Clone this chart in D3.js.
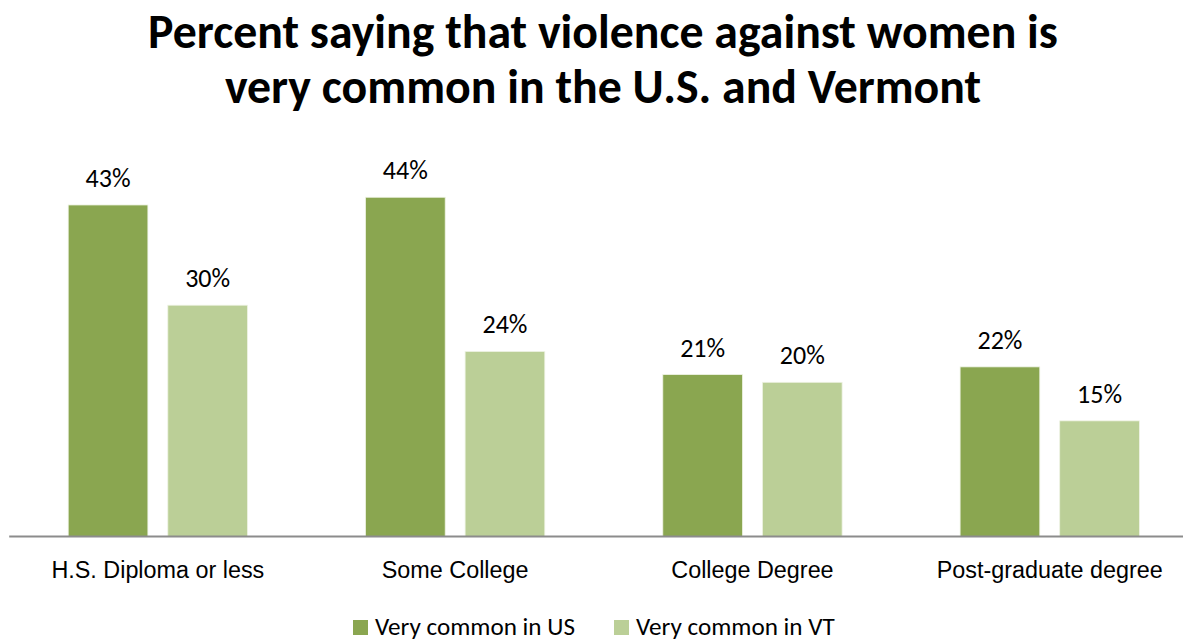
<!DOCTYPE html>
<html>
<head>
<meta charset="utf-8">
<script src="https://cdn.jsdelivr.net/npm/d3@7"></script>
<style>
  html, body { margin: 0; padding: 0; background: #fff; }
  svg { display: block; font-family: Calibri, Carlito, "Open Sans", sans-serif; }
</style>
</head>
<body>
<svg id="chart" width="1183" height="639"></svg>
<script>
// Survey results by education level
const titleLines = [
  "Percent saying that violence against women is",
  "very common in the U.S. and Vermont"
];
const categories = ["H.S. Diploma or less", "Some College", "College Degree", "Post-graduate degree"];
const seriesNames = ["Very common in US", "Very common in VT"];
const usValues = [43, 44, 21, 22];
const vtValues = [30, 24, 20, 15];
const seriesColors = ["#8aa650", "#bbcf97"];

const svg = d3.select("#chart");
const W = 1183, H = 639;

// Shrink or grow a text's font size so it spans the given width
function fitWidth(sel, width) {
  const node = sel.node();
  const size = parseFloat(sel.attr("font-size"));
  const w = node.getComputedTextLength();
  sel.attr("font-size", (size * width / w).toFixed(2));
  return size * width / w;
}

// Title
const t1 = svg.append("text").attr("x", 603).attr("y", 48)
  .attr("text-anchor", "middle").attr("font-weight", "bold")
  .attr("font-size", 40).attr("fill", "#000").text(titleLines[0]);
const titleSize = fitWidth(t1, 910);
svg.append("text").attr("x", 603).attr("y", 103)
  .attr("text-anchor", "middle").attr("font-weight", "bold")
  .attr("font-size", titleSize).attr("fill", "#000").text(titleLines[1]);

// Scales
const x0 = d3.scaleBand().domain(categories).range([9.2, 1198.4]).paddingInner(0).paddingOuter(0);
const x1 = d3.scaleBand().domain(seriesNames).range([59, 297.3 - 59]).paddingInner(0.2).paddingOuter(0);
const y = d3.scaleLinear().domain([0, 50]).range([536.5, 151]);

const rows = categories.map((c, i) => ({
  category: c,
  values: [
    { series: seriesNames[0], value: usValues[i], color: seriesColors[0] },
    { series: seriesNames[1], value: vtValues[i], color: seriesColors[1] }
  ]
}));

const groups = svg.append("g").selectAll("g").data(rows).join("g")
  .attr("transform", d => `translate(${x0(d.category)},0)`);

groups.selectAll("rect").data(d => d.values).join("rect")
  .attr("x", d => x1(d.series))
  .attr("y", d => y(d.value))
  .attr("width", x1.bandwidth())
  .attr("height", d => y(0) - y(d.value))
  .attr("fill", d => d.color)
  .attr("stroke", "#eef3e4").attr("stroke-width", 0.8);

// Value labels
const valueLabels = groups.selectAll("text.val").data(d => d.values).join("text")
  .attr("class", "val")
  .attr("x", d => x1(d.series) + x1.bandwidth() / 2)
  .attr("y", d => y(d.value) - 18)
  .attr("text-anchor", "middle").attr("font-size", 20).attr("fill", "#000")
  .text(d => d.value + "%");
const valSize = fitWidth(d3.select(valueLabels.nodes()[0]), 45);
valueLabels.attr("font-size", valSize);

// Baseline axis
const xAxis = svg.append("g").attr("transform", `translate(0,${y(0)})`)
  .call(d3.axisBottom(x0).tickSize(0).tickPadding(0));
xAxis.select(".domain").attr("stroke", "#8c8c8c").attr("stroke-width", 2)
  .attr("d", `M${x0.range()[0]},0H${x0.range()[1]}`);
const catTexts = xAxis.selectAll(".tick text")
  .attr("dy", 0).attr("y", 41.5)
  .attr("font-family", null).attr("font-size", 20).attr("fill", "#000");
const catSize = fitWidth(d3.select(catTexts.nodes()[0]), 213);
catTexts.attr("font-size", catSize);

// Legend
const legendX = [353, 614];
const legend = svg.append("g").selectAll("g").data(seriesNames).join("g")
  .attr("transform", (d, i) => `translate(${legendX[i]},620)`);
legend.append("rect").attr("width", 15).attr("height", 15)
  .attr("fill", (d, i) => seriesColors[i]);
const legTexts = legend.append("text").attr("x", 22).attr("y", 15)
  .attr("font-size", 22).attr("fill", "#000").text(d => d);
const legSize = fitWidth(d3.select(legTexts.nodes()[0]), 200);
legTexts.attr("font-size", legSize);
</script>
</body>
</html>
